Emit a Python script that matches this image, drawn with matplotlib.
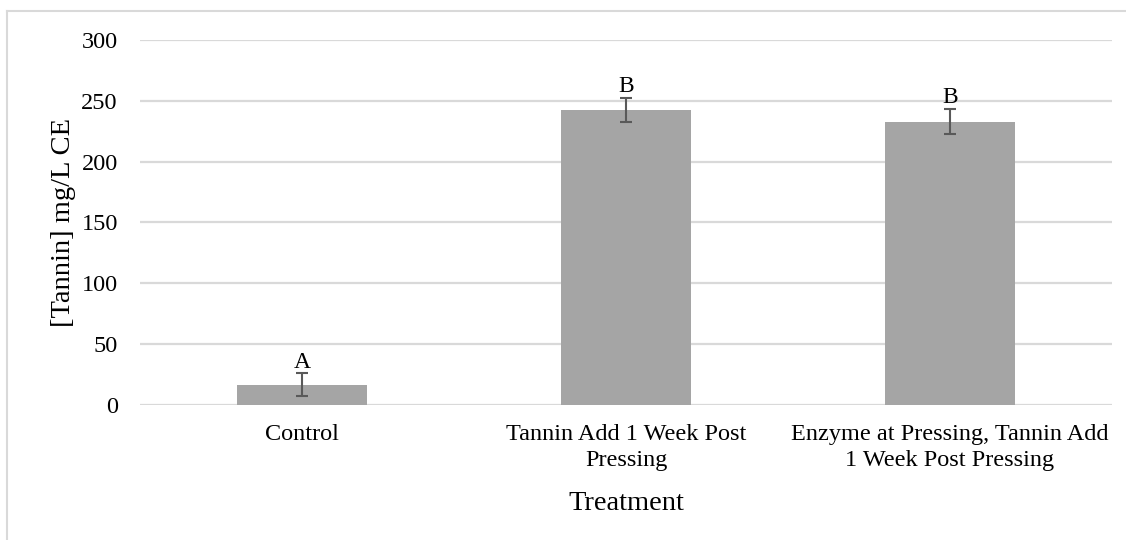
import matplotlib.pyplot as plt
from matplotlib.lines import Line2D

treatments = ["Control",
              "Tannin Add 1 Week Post\nPressing",
              "Enzyme at Pressing, Tannin Add\n1 Week Post Pressing"]
tannin = [16.5, 242.5, 233.0]
tannin_err = [9.5, 10.2, 10.3]
letters = ["A", "B", "B"]

plt.rcParams['font.family'] = ['Liberation Serif', 'DejaVu Serif']

fig = plt.figure(figsize=(11.26, 5.4), dpi=100)
ax = fig.add_axes([140 / 1126, 1 - 405 / 540, 972 / 1126, 365 / 540])

x = range(len(treatments))
ax.bar(x, tannin, width=0.4, color='#a5a5a5', zorder=2)
ax.errorbar(x, tannin, yerr=tannin_err, fmt='none', ecolor='#595959',
            elinewidth=1.5, capsize=4.3, capthick=1.5, zorder=3)

for i, (v, e, lab) in enumerate(zip(tannin, tannin_err, letters)):
    ax.annotate(lab, (i, v + e), xytext=(0, 4), textcoords='offset points',
                ha='center', va='baseline', fontsize=17, color='black')

ax.set_xlim(-0.5, 2.5)
ax.set_ylim(0, 300)
ax.set_yticks(range(0, 301, 50))
ax.set_xticks(list(x))
ax.set_xticklabels(treatments, fontsize=17.5, linespacing=1.3)
ax.tick_params(axis='y', labelsize=17.5, length=0, pad=16)
ax.tick_params(axis='x', length=0, pad=14)
ax.grid(axis='y', color='#d9d9d9', linewidth=1.6, zorder=0)
ax.set_axisbelow(True)
for s in ax.spines.values():
    s.set_visible(False)

ax.set_ylabel("[Tannin] mg/L CE", fontsize=20.5, labelpad=4)
ax.set_xlabel("Treatment", fontsize=20.5, labelpad=14)

# outer chart frame (cropped at right and bottom)
fig.add_artist(Line2D([7.5 / 1126, 7.5 / 1126], [0, 1 - 11 / 540],
                      transform=fig.transFigure, color='#d9d9d9', linewidth=1.5))
fig.add_artist(Line2D([7.5 / 1126, 1], [1 - 11 / 540, 1 - 11 / 540],
                      transform=fig.transFigure, color='#d9d9d9', linewidth=1.5))

fig.savefig("out.png", dpi=100)
